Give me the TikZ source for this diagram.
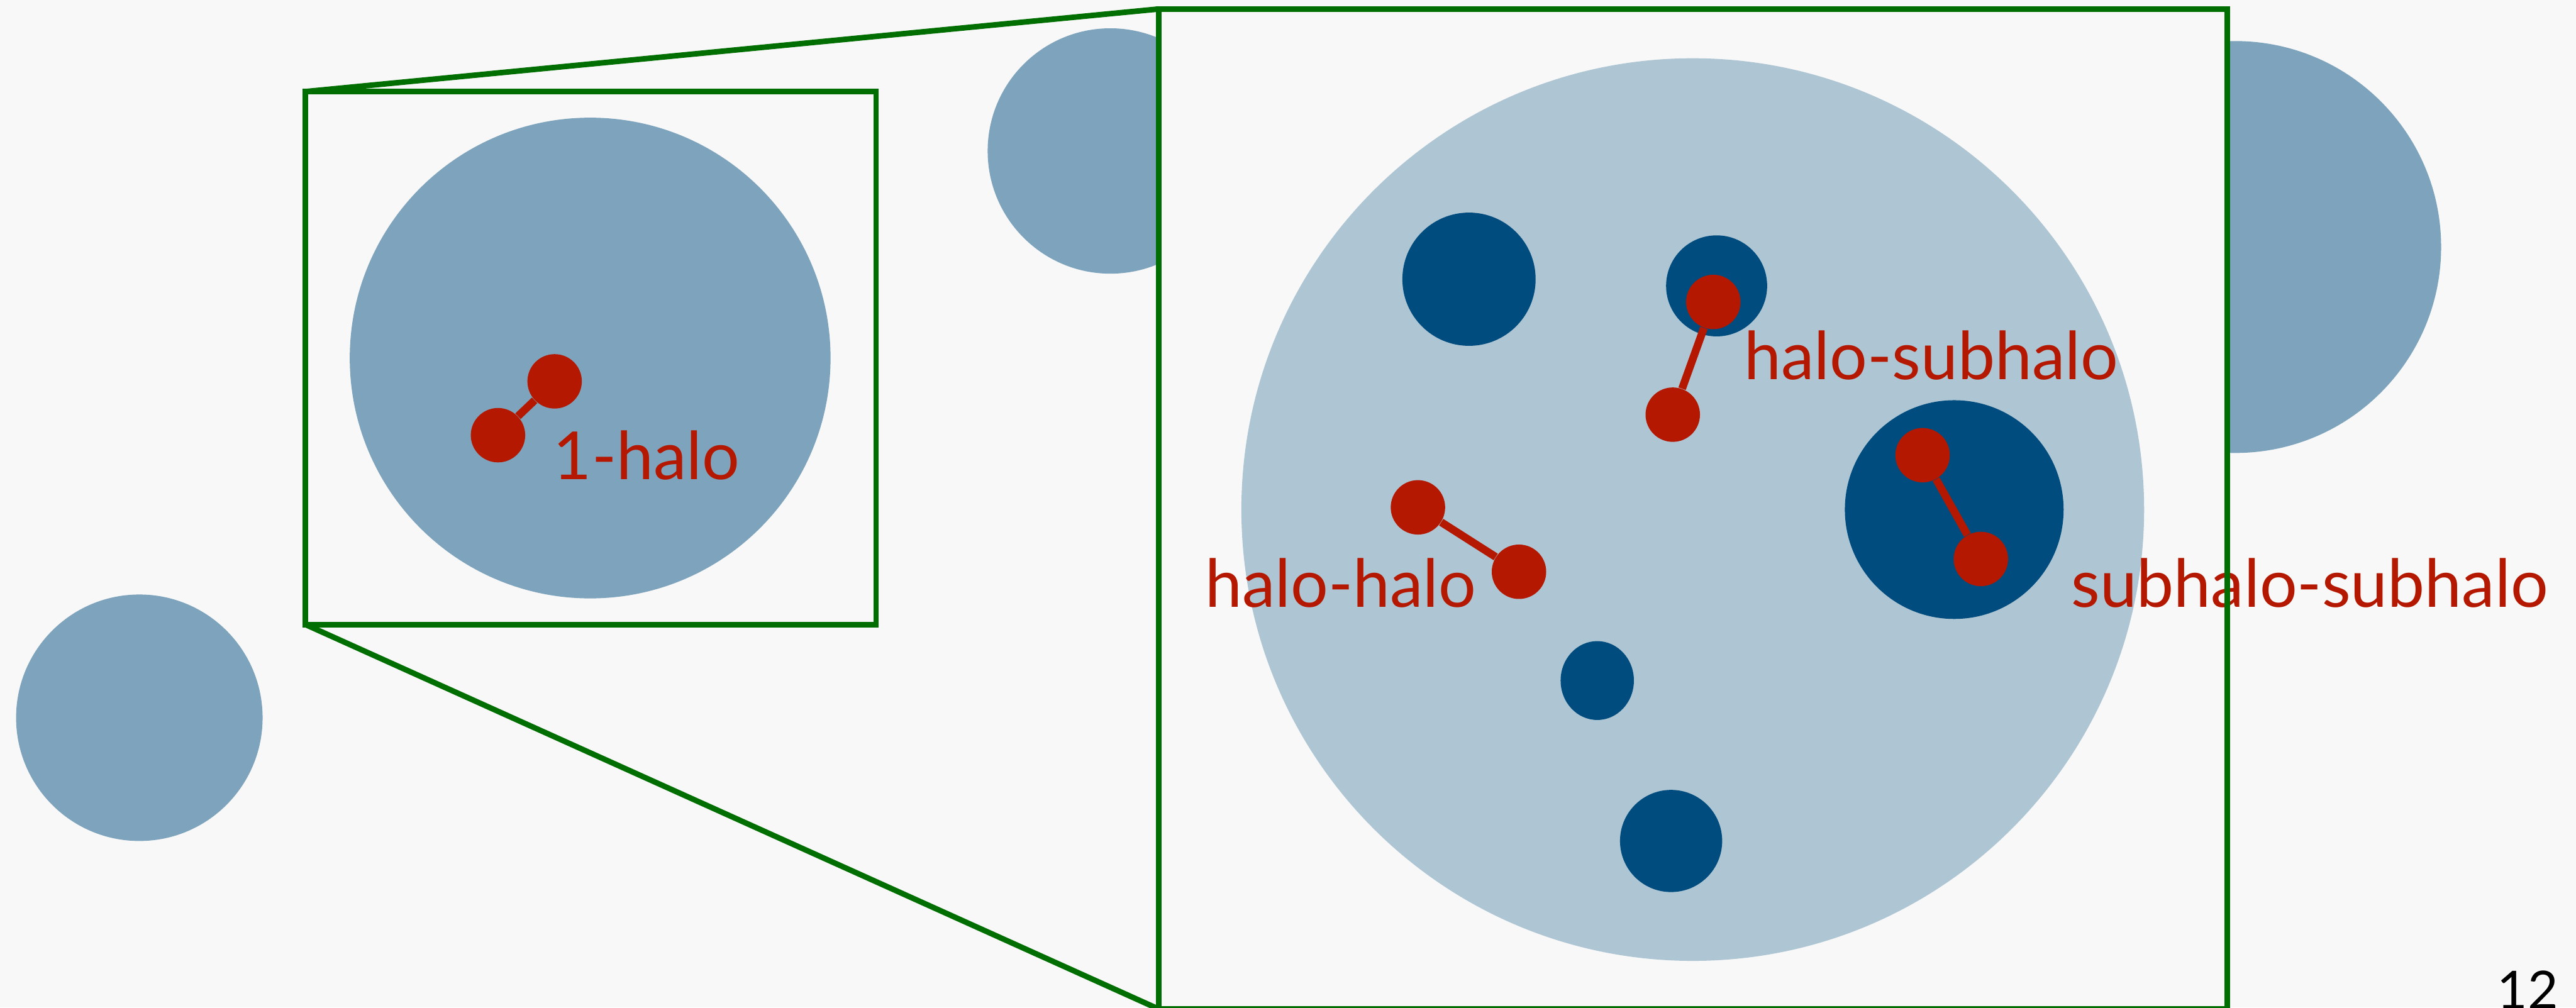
\documentclass[tikz,border=0pt]{standalone}
\usepackage{fontspec}
\setmainfont{Lato}
\definecolor{paper}{HTML}{F8F8F8}
\definecolor{halomid}{HTML}{7EA4BD}
\definecolor{halolight}{HTML}{AEC5D3}
\definecolor{subdark}{HTML}{004C7E}
\definecolor{pairred}{HTML}{B41800}
\definecolor{framegreen}{HTML}{006E00}

\begin{document}
\begin{tikzpicture}[
    member/.style={
        circle,
        fill=pairred,
        minimum size=0.98cm,
        inner sep=0pt
    },
    pairbar/.style={draw=pairred, line width=1.4mm},
    zoomframe/.style={
        rectangle,
        draw=framegreen,
        fill=paper,
        line width=1mm,
        inner sep=0pt,
        outer sep=0pt
    },
    tag/.style={
        text=pairred,
        font=\fontsize{34}{40}\selectfont,
        anchor=base west,
        inner sep=0pt
    }
]

% --- MACRO: DRAW A PAIR ---
\newcommand{\drawpair}[3]{
    \node[member] (#1a) at #2 {};
    \node[member] (#1b) at #3 {};
    \draw[pairbar] (#1a) -- (#1b);
}

% --- PAGE ---
\useasboundingbox (0,0) rectangle (46.40,18.15);
\fill[paper] (0,0) rectangle (46.40,18.15);

% --- FIELD HALOS ---
\fill[halomid] (2.51,5.22) circle (2.22cm);
\fill[halomid] (20.00,15.43) circle (2.21cm);
\fill[halomid] (40.26,13.70) circle (3.71cm);
\fill[halomid] (10.63,11.70) circle (4.33cm);

% --- SMALL FRAME ---
\node[zoomframe, fill=none, minimum width=10.28cm, minimum height=9.60cm]
    (lbox) at (10.64,11.70) {};
\drawpair{one}{(8.97,10.31)}{(9.99,11.28)}
\node[tag] (onelabel) at (9.96,9.51) {1-halo};

% --- ZOOMED FRAME ---
\node[zoomframe, draw=none, minimum width=19.25cm, minimum height=18.015cm]
    (zbox) at (30.495,8.98) {};
\draw[framegreen, line width=1mm] (lbox.north west) -- (zbox.north west);
\draw[framegreen, line width=1mm] (lbox.south west) -- (zbox.south west);

% host halo and its subhalos
\fill[halolight] (30.49,8.97) circle (8.13cm);
\fill[subdark] (26.46,13.12) circle (1.20cm);
\fill[subdark] (30.92,13.00) circle (0.91cm);
\fill[subdark] (35.20,8.97) circle (1.97cm);
\fill[subdark] (28.77,5.89) ellipse (0.66cm and 0.71cm);
\fill[subdark] (30.10,3.00) circle (0.92cm);

% --- PAIRS ---
\drawpair{hs}{(30.86,12.71)}{(30.13,10.68)}
\drawpair{hh}{(25.54,9.01)}{(27.36,7.85)}
\drawpair{ss}{(34.63,9.95)}{(35.68,8.08)}

\node[tag] (hslabel) at (31.41,11.31) {halo-subhalo};
\node[tag] (hhlabel) at (21.70,7.21) {halo-halo};
\node[tag] (sslabel) at (37.30,7.21) {subhalo-subhalo};

% frame border goes over the labels
\draw[framegreen, line width=1mm] (zbox.north west) rectangle (zbox.south east);

% --- SLIDE NUMBER ---
\node[anchor=base east, inner sep=0pt, font=\fontsize{27}{30}\selectfont]
    (slideno) at (46.09,-0.03) {12};

\end{tikzpicture}
\end{document}
